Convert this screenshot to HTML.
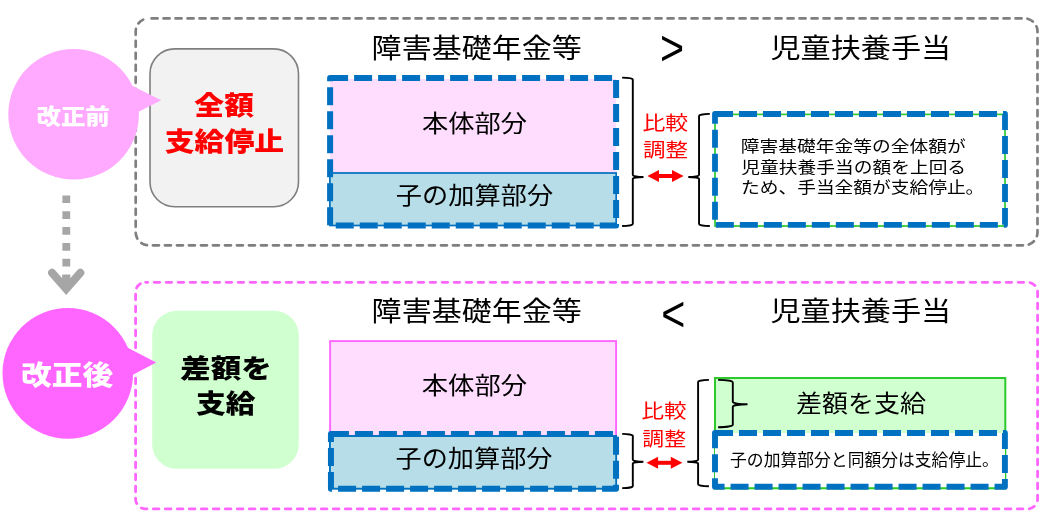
<!DOCTYPE html>
<html lang="ja">
<head>
<meta charset="utf-8">
<title>児童扶養手当と障害基礎年金等の併給調整</title>
<style>
html,body{margin:0;padding:0;background:#fff;}
body{width:1049px;height:522px;overflow:hidden;}
svg{display:block;font-family:"Liberation Sans", "Noto Sans CJK JP", sans-serif;will-change:transform;}
</style>
</head>
<body>
<svg width="1049" height="522" viewBox="0 0 1049 522">
<rect x="135.7" y="18.4" width="901.8" height="226.9" rx="13" ry="13" fill="none" stroke="#7f7f7f" stroke-width="2.7" stroke-linecap="round" stroke-dasharray="6 6" stroke-dashoffset="-2.85"/>
<rect x="150" y="48.9" width="148.5" height="157.8" rx="24.75" ry="24.75" fill="#f2f2f2" stroke="#7f7f7f" stroke-width="1.6"/>
<text x="194.38" y="115.14" font-size="26.6" fill="#ff0000" font-weight="900" text-anchor="start" textLength="59.57" lengthAdjust="spacingAndGlyphs">全額</text>
<text x="164.78" y="150.69" font-size="26.6" fill="#ff0000" font-weight="900" text-anchor="start" textLength="119.36" lengthAdjust="spacingAndGlyphs">支給停止</text>
<circle cx="73.6" cy="114.25" r="65.3" fill="#ffaaff"/>
<path d="M121.5,80.5 L161.2,100.2 L128.9,116.8 Z" fill="#ffaaff"/>
<text x="36.45" y="123.76" font-size="22.0" fill="#fff" font-weight="900" text-anchor="start" textLength="73.38" lengthAdjust="spacingAndGlyphs">改正前</text>
<text x="371.61" y="57.68" font-size="27.5" fill="#000" font-weight="400" text-anchor="start" textLength="210.21" lengthAdjust="spacingAndGlyphs">障害基礎年金等</text>
<text x="770.48" y="57.9" font-size="27.5" fill="#000" font-weight="400" text-anchor="start" textLength="180.63" lengthAdjust="spacingAndGlyphs">児童扶養手当</text>
<text transform="translate(660.11,64.91) scale(1.032,1.246)" font-size="40" fill="#000">&gt;</text>
<rect x="330.1" y="79" width="286" height="95" fill="#ffddff"/>
<rect x="329.9" y="173" width="286.3" height="52.5" fill="#b7dee8" stroke="#0070c0" stroke-width="1.7"/>
<path d="M330.1,77.95 h286 v147.65 h-286 Z" fill="none" stroke="#0070c0" stroke-width="6" stroke-linejoin="round" stroke-dasharray="18 6"/>
<text x="422.07" y="131.65" font-size="24.0" fill="#000" font-weight="400" text-anchor="start" textLength="105.08" lengthAdjust="spacingAndGlyphs">本体部分</text>
<text x="395.82" y="204.1" font-size="24.0" fill="#000" font-weight="400" text-anchor="start" textLength="157.28" lengthAdjust="spacingAndGlyphs">子の加算部分</text>
<path d="M622.1,77.6 A10.7,1.9 0 0 1 632.8000000000001,79.5 L632.8000000000001,175.1 A10.7,1.9 0 0 0 643.5,177 A10.7,1.9 0 0 0 632.8000000000001,178.9 L632.8000000000001,224.1 A10.7,1.9 0 0 1 622.1,226" fill="none" stroke="#000" stroke-width="1.9"/>
<text x="642.44" y="130.02" font-size="19.6" fill="#ff0000" font-weight="400" text-anchor="start" textLength="45.76" lengthAdjust="spacingAndGlyphs">比較</text>
<text x="643.05" y="157.29" font-size="19.6" fill="#ff0000" font-weight="400" text-anchor="start" textLength="44.94" lengthAdjust="spacingAndGlyphs">調整</text>
<path d="M647.4,176.0 L659.0,170.0 L659.0,182.0 Z M683.6,176.0 L672.0,170.0 L672.0,182.0 Z" fill="#ff0000"/><line x1="658.0" y1="176.0" x2="673.0" y2="176.0" stroke="#ff0000" stroke-width="4"/>
<path d="M709.8,113.9 A10.75,1.9 0 0 0 699.05,115.80000000000001 L699.05,175.1 A10.75,1.9 0 0 1 688.3,177 A10.75,1.9 0 0 1 699.05,178.9 L699.05,224.1 A10.75,1.9 0 0 0 709.8,226" fill="none" stroke="#000" stroke-width="1.9"/>
<rect x="715" y="114.4" width="290" height="111.6" fill="#fff" stroke="#2cc82c" stroke-width="1.7"/>
<path d="M715,114 h290 v110.85 h-290 Z" fill="none" stroke="#0070c0" stroke-width="5.8" stroke-linejoin="round" stroke-dasharray="18 6"/>
<text x="740.87" y="152.08" font-size="15.8" fill="#000" font-weight="400" text-anchor="start" textLength="224.83" lengthAdjust="spacingAndGlyphs">障害基礎年金等の全体額が</text>
<text x="741.39" y="172.78" font-size="15.8" fill="#000" font-weight="400" text-anchor="start" textLength="224.74" lengthAdjust="spacingAndGlyphs">児童扶養手当の額を上回る</text>
<text x="741.04" y="192.88" font-size="15.8" fill="#000" font-weight="400" text-anchor="start" textLength="243.32" lengthAdjust="spacingAndGlyphs">ため、手当全額が支給停止。</text>
<line x1="66.3" y1="195.4" x2="66.3" y2="289" stroke="#a6a6a6" stroke-width="7.8" stroke-dasharray="7.7 8.15"/>
<line x1="66.3" y1="274.7" x2="66.3" y2="290" stroke="#a6a6a6" stroke-width="7.8"/>
<path d="M52.1,272.8 L66.2,289 L80.3,272.8" fill="none" stroke="#a6a6a6" stroke-width="8" stroke-linecap="round" stroke-linejoin="miter"/>
<rect x="135.6" y="282.3" width="902" height="226.6" rx="10" ry="10" fill="none" stroke="#ff66ff" stroke-width="2.8" stroke-linecap="round" stroke-dasharray="5.6 6.4" stroke-dashoffset="-8.5"/>
<rect x="152.2" y="310.8" width="146.6" height="158" rx="24.5" ry="24.5" fill="#d0ffd0"/>
<text x="180.37" y="377.59" font-size="26.6" fill="#000" font-weight="900" text-anchor="start" textLength="91.52" lengthAdjust="spacingAndGlyphs">差額を</text>
<text x="195.98" y="413.21" font-size="26.6" fill="#000" font-weight="900" text-anchor="start" textLength="59.61" lengthAdjust="spacingAndGlyphs">支給</text>
<circle cx="67.8" cy="373.35" r="65.3" fill="#ff66ff"/>
<path d="M117.2,342.3 L156.2,362.6 L123.9,379.6 Z" fill="#ff66ff"/>
<text x="21.07" y="384.79" font-size="26.9" fill="#fff" font-weight="900" text-anchor="start" textLength="92.15" lengthAdjust="spacingAndGlyphs">改正後</text>
<text x="371.61" y="321.23" font-size="27.5" fill="#000" font-weight="400" text-anchor="start" textLength="210.21" lengthAdjust="spacingAndGlyphs">障害基礎年金等</text>
<text x="770.48" y="321.3" font-size="27.5" fill="#000" font-weight="400" text-anchor="start" textLength="180.63" lengthAdjust="spacingAndGlyphs">児童扶養手当</text>
<text transform="translate(661.29,330.96) scale(1.032,1.246)" font-size="40" fill="#000">&lt;</text>
<rect x="330.1" y="341.1" width="286" height="95" fill="#ffddff" stroke="#ff66ff" stroke-width="1.9"/>
<rect x="329.9" y="436" width="286.3" height="52.7" fill="#b7dee8" stroke="#0070c0" stroke-width="1.9"/>
<path d="M330.95,433.9 h285.1 v54.95 h-285.1 Z" fill="none" stroke="#0070c0" stroke-width="6" stroke-linejoin="round" stroke-dasharray="18 6"/>
<text x="421.67" y="393.85" font-size="24.0" fill="#000" font-weight="400" text-anchor="start" textLength="105.48" lengthAdjust="spacingAndGlyphs">本体部分</text>
<text x="395.52" y="467.3" font-size="24.0" fill="#000" font-weight="400" text-anchor="start" textLength="156.98" lengthAdjust="spacingAndGlyphs">子の加算部分</text>
<path d="M622.2,433.9 A10.6,1.9 0 0 1 632.8000000000001,435.79999999999995 L632.8000000000001,459.8 A10.6,1.9 0 0 0 643.4000000000001,461.7 A10.6,1.9 0 0 0 632.8000000000001,463.59999999999997 L632.8000000000001,486.20000000000005 A10.6,1.9 0 0 1 622.2,488.1" fill="none" stroke="#000" stroke-width="1.9"/>
<text x="641.57" y="417.91" font-size="19.6" fill="#ff0000" font-weight="400" text-anchor="start" textLength="45.12" lengthAdjust="spacingAndGlyphs">比較</text>
<text x="642.36" y="445.84" font-size="19.6" fill="#ff0000" font-weight="400" text-anchor="start" textLength="43.6" lengthAdjust="spacingAndGlyphs">調整</text>
<path d="M646.5,462.8 L658.1,456.8 L658.1,468.8 Z M682.4,462.8 L670.8,456.8 L670.8,468.8 Z" fill="#ff0000"/><line x1="657.1" y1="462.8" x2="671.8" y2="462.8" stroke="#ff0000" stroke-width="4"/>
<path d="M708.9,379.9 A10.8,1.9 0 0 0 698.1,381.79999999999995 L698.1,459.8 A10.8,1.9 0 0 1 687.3,461.7 A10.8,1.9 0 0 1 698.1,463.59999999999997 L698.1,484.3 A10.8,1.9 0 0 0 708.9,486.2" fill="none" stroke="#000" stroke-width="1.9"/>
<rect x="715" y="378" width="290.3" height="110.3" fill="#d0ffd0" stroke="#2cc82c" stroke-width="2"/>
<path d="M718.1,379.9 A14.7,2.5 0 0 1 732.8000000000001,382.4 L732.8000000000001,401.8 A14.7,2.5 0 0 0 747.5,404.3 A14.7,2.5 0 0 0 732.8000000000001,406.8 L732.8000000000001,424.7 A14.7,2.5 0 0 1 718.1,427.2" fill="none" stroke="#000" stroke-width="1.9"/>
<text x="795.98" y="411.55" font-size="24.0" fill="#000" font-weight="400" text-anchor="start" textLength="130.05" lengthAdjust="spacingAndGlyphs">差額を支給</text>
<path d="M715,432.95 h289.9 v53.75 h-289.9 Z" fill="#fff" stroke="#0070c0" stroke-width="5.9" stroke-linejoin="round" stroke-dasharray="18 6"/>
<text x="730.09" y="466.29" font-size="16.7" fill="#000" font-weight="400" text-anchor="start" textLength="268.69" lengthAdjust="spacingAndGlyphs">子の加算部分と同額分は支給停止。</text>
</svg>
</body>
</html>
